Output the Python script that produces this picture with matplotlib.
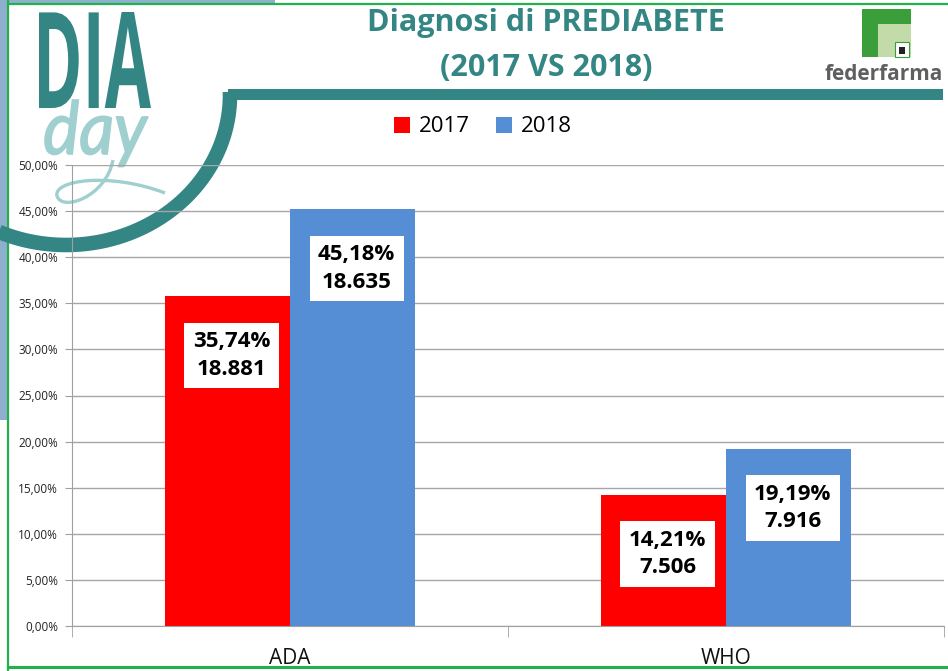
import numpy as np
import matplotlib
matplotlib.use('Agg')
import matplotlib.pyplot as plt
from matplotlib.patches import Rectangle, PathPatch
from matplotlib.path import Path
from matplotlib.textpath import TextPath
from matplotlib.font_manager import FontProperties
from matplotlib.transforms import Affine2D

# Chart data
categories = ['ADA', 'WHO']
years = ['2017', '2018']
pct_2017 = [35.74, 14.21]
pct_2018 = [45.18, 19.19]
count_2017 = [18881, 7506]
count_2018 = [18635, 7916]
y_ticks = [0, 5, 10, 15, 20, 25, 30, 35, 40, 45, 50]

red = '#FF0000'
blue = '#558ED5'
teal = '#338684'
light_teal = '#9FD0CF'
green = '#22B14C'

plt.rcParams['font.family'] = ['Open Sans', 'DejaVu Sans']

W, H = 948, 671
fig = plt.figure(figsize=(W / 100, H / 100), dpi=100)
fig.patch.set_facecolor('white')

# background layer in pixel coordinates (y grows downwards)
bg = fig.add_axes([0, 0, 1, 1], zorder=0)
bg.set_xlim(0, W)
bg.set_ylim(H, 0)
bg.axis('off')

# page borders
bg.add_patch(Rectangle((0, 0), 7, 420, color='#8FAFCF', lw=0))
bg.add_patch(Rectangle((0, 0), 275, 3, color='#8FAFCF', lw=0))
bg.plot([8, 8], [0, H], color=green, lw=1.6)
bg.plot([8, W], [3.5, 3.5], color=green, lw=1.6)
bg.plot([8, W], [667, 667], color=green, lw=2.2)


def fit_text(text, fp, x0, x1, ytop, ybase, color, lw=0):
    # draw text as a path stretched into a pixel box (baseline at ybase)
    tp = TextPath((0, 0), text, prop=fp, size=100)
    ext = tp.get_extents()
    sx = (x1 - x0) / ext.width
    sy = (ybase - ytop) / ext.y1
    tr = Affine2D().translate(-ext.x0, 0).scale(sx, -sy).translate(x0, ybase)
    bg.add_patch(PathPatch(tr.transform_path(tp), facecolor=color, edgecolor=color, lw=lw))


# DIA day logo
fit_text('DIA', FontProperties(family='Open Sans', weight='bold'), 39, 151, 12, 108, teal)
fit_text('day', FontProperties(family='Lato', style='italic'), 45, 148, 100, 154,
         light_teal, lw=1.2)
swoosh = Path([(113, 160), (106, 197), (62, 212), (57, 196),
               (53, 180), (110, 172), (165, 193)],
              [Path.MOVETO, Path.CURVE4, Path.CURVE4, Path.CURVE4,
               Path.CURVE4, Path.CURVE4, Path.CURVE4])
bg.add_patch(PathPatch(swoosh, facecolor='none', edgecolor=light_teal, lw=2.4))

# teal swoosh: arc + horizontal band
t = np.linspace(-0.02, np.pi * 0.70, 200)
arc_x = 66 + 164 * np.cos(t)
arc_y = 95 + 150 * np.sin(t)
bg.plot(arc_x, arc_y, color=teal, lw=10.5, solid_capstyle='butt')
bg.add_patch(Rectangle((228, 89), 943 - 228, 11, color=teal, lw=0))

# federfarma logo
bg.add_patch(Rectangle((862, 9), 49, 48, color='#3A9E3A', lw=0))
bg.add_patch(Rectangle((878, 24), 33, 33, color='#C3DBA8', lw=0))
bg.add_patch(Rectangle((895, 42), 14, 15, facecolor='white', edgecolor='#3A9E3A', lw=0.8))
bg.add_patch(Rectangle((899, 47), 6, 7, color='#222222', lw=0))
bg.text(825, 74, 'federfarma', fontsize=15, fontweight='bold', color='#5F5F5F',
        ha='left', va='center')

# titles
fig.text(546 / W, 1 - 23 / H, 'Diagnosi di PREDIABETE', fontsize=22, fontweight='bold',
         color=teal, ha='center', va='center')
fig.text(546 / W, 1 - 68 / H, '(2017 VS 2018)', fontsize=22, fontweight='bold',
         color=teal, ha='center', va='center')

# main chart
ax = fig.add_axes([72 / W, 45 / H, (944 - 72) / W, (626 - 165) / H], zorder=1)
ax.set_facecolor('none')

x = np.arange(len(categories))
bw = 0.287
b1 = ax.bar(x - bw / 2, np.array(pct_2017) / 100, bw, color=red, label=years[0], zorder=2)
b2 = ax.bar(x + bw / 2, np.array(pct_2018) / 100, bw, color=blue, label=years[1], zorder=2)

ax.set_xlim(-0.5, len(categories) - 0.5)
ax.set_ylim(0, 0.5)
ax.set_yticks(np.array(y_ticks) / 100)
ax.set_yticklabels([f'{v:.2f}'.replace('.', ',') + '%' for v in y_ticks],
                   fontsize=8.5, color='#222222')
ax.set_xticks(x)
ax.set_xticklabels(categories, fontsize=15, color='#111111')
ax.set_xticks(np.arange(-0.5, len(categories)), minor=True)
ax.tick_params(axis='x', which='major', length=0, pad=16)
ax.tick_params(axis='x', which='minor', length=8, color='#A0A0A0', direction='out')
ax.tick_params(axis='y', length=5, color='#A0A0A0', direction='out', pad=5)
ax.grid(axis='y', color='#A6A6A6', lw=1, zorder=0)
ax.set_axisbelow(True)
for s in ['top', 'right']:
    ax.spines[s].set_visible(False)
for s in ['left', 'bottom']:
    ax.spines[s].set_color('#A0A0A0')


def fmt_count(n):
    return f'{n:,}'.replace(',', '.')


for bars, pcts, counts in [(b1, pct_2017, count_2017), (b2, pct_2018, count_2018)]:
    for rect, p, n in zip(bars, pcts, counts):
        label = f'{p:.2f}'.replace('.', ',') + '%\n' + fmt_count(n)
        ax.annotate(label, xy=(rect.get_x() + rect.get_width() / 2, rect.get_height()),
                    xytext=(3, -25), textcoords='offset points', ha='center', va='top',
                    fontsize=16, fontweight='bold', color='black', linespacing=1.4,
                    bbox=dict(facecolor='white', edgecolor='none', pad=6), zorder=3)

fig.legend(handles=[b1, b2], loc='center', bbox_to_anchor=(483 / W, 1 - 127 / H),
           ncol=2, frameon=False, fontsize=16, handlelength=0.7, handleheight=0.7,
           handletextpad=0.4, columnspacing=1.2)

fig.savefig('out.png', dpi=100, facecolor='white')
